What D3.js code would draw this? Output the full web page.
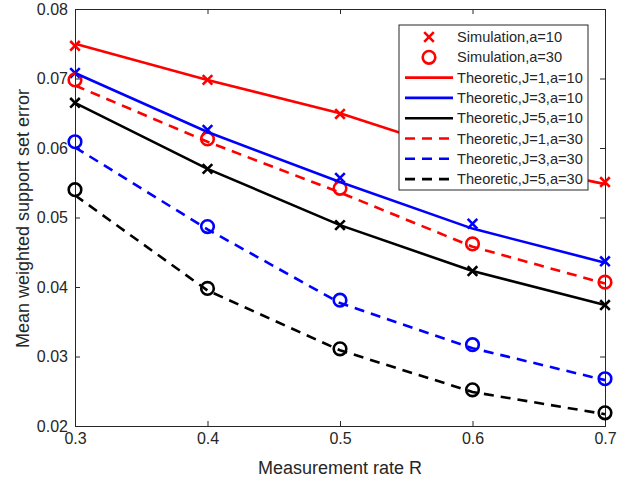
<!DOCTYPE html>
<html><head><meta charset="utf-8">
<script src="https://cdn.jsdelivr.net/npm/d3@7"></script>
<style>body{margin:0;background:#fff}text{font-family:"Liberation Sans",Arial,sans-serif;fill:#262626}</style>
</head><body><svg id="c" width="638" height="481"></svg>
<script>
const rates = [0.3, 0.4, 0.5, 0.6, 0.7];
const xTicks = [0.3, 0.4, 0.5, 0.6, 0.7];
const yTicks = [0.02, 0.03, 0.04, 0.05, 0.06, 0.07, 0.08];
// Simulation, a=10 (x markers)
const simA10J1 = [0.0747, 0.0698, 0.0649, 0.0592, 0.0551];
const simA10J3 = [0.0708, 0.0626, 0.0557, 0.0491, 0.0437];
const simA10J5 = [0.0665, 0.0570, 0.0489, 0.0423, 0.0374];
// Simulation, a=30 (circle markers)
const simA30J1 = [0.0698, 0.0613, 0.0542, 0.0462, 0.0407];
const simA30J3 = [0.0609, 0.0487, 0.0381, 0.0317, 0.0268];
const simA30J5 = [0.0540, 0.0398, 0.0311, 0.0252, 0.0219];
// Theoretic curves
const thA10J1 = [0.0750, 0.0698, 0.0650, 0.0588, 0.0548];
const thA10J3 = [0.0708, 0.0623, 0.0551, 0.0484, 0.0435];
const thA10J5 = [0.0665, 0.0570, 0.0489, 0.0423, 0.0374];
const thA30J1 = [0.0690, 0.0609, 0.0536, 0.0458, 0.0405];
const thA30J3 = [0.0601, 0.0483, 0.0377, 0.0312, 0.0266];
const thA30J5 = [0.0532, 0.0395, 0.0309, 0.0249, 0.0217];
const legendLabels = ["Simulation,a=10","Simulation,a=30","Theoretic,J=1,a=10","Theoretic,J=3,a=10","Theoretic,J=5,a=10","Theoretic,J=1,a=30","Theoretic,J=3,a=30","Theoretic,J=5,a=30"];

const svg = d3.select("#c");
const L = 75, R = 605, T = 9, B = 426;
const x = d3.scaleLinear().domain([0.3, 0.7]).range([L, R]);
const y = d3.scaleLinear().domain([0.02, 0.08]).range([B, T]);
const axCol = "#262626";

svg.append("rect").attr("x", L).attr("y", T).attr("width", R - L).attr("height", B - T).attr("fill", "#fff");

const fmt = d3.format(".2f");
const axB = d3.axisBottom(x).tickValues(xTicks).tickSize(-5).tickPadding(7).tickFormat(d3.format(".1f"));
const axT = d3.axisTop(x).tickValues(xTicks).tickSize(-5).tickFormat("");
const axL = d3.axisLeft(y).tickValues(yTicks).tickSize(-5).tickPadding(7).tickFormat(fmt);
const axR = d3.axisRight(y).tickValues(yTicks).tickSize(-5).tickFormat("");
function styleAx(g){g.select(".domain").attr("stroke", axCol).attr("stroke-width",1);g.selectAll(".tick line").attr("stroke", axCol);g.selectAll("text").attr("font-size",16).attr("fill",axCol).attr("font-family","Liberation Sans, Arial, sans-serif");}
svg.append("g").attr("transform",`translate(0,${B})`).call(axB).call(styleAx);
svg.append("g").attr("transform",`translate(0,${T})`).call(axT).call(styleAx);
svg.append("g").attr("transform",`translate(${L},0)`).call(axL).call(styleAx);
svg.append("g").attr("transform",`translate(${R},0)`).call(axR).call(styleAx);

svg.append("text").attr("x",(L+R)/2).attr("y",474).attr("text-anchor","middle").attr("font-size",18).text("Measurement rate R");
svg.append("text").attr("transform",`translate(29,${(T+B)/2+1}) rotate(-90)`).attr("text-anchor","middle").attr("font-size",18).text("Mean weighted support set error");

const plot = svg.append("g");
const line = d3.line().x((d,i)=>x(rates[i])).y(d=>y(d));
const dashPat = "10,7";
const theo = [
  {v: thA10J1, c:"#ff0000", dash:null},
  {v: thA10J3, c:"#0000ff", dash:null},
  {v: thA10J5, c:"#000000", dash:null},
  {v: thA30J1, c:"#ff0000", dash:dashPat},
  {v: thA30J3, c:"#0000ff", dash:dashPat},
  {v: thA30J5, c:"#000000", dash:dashPat}
];
const xs = [{v:simA10J1,c:"#ff0000"},{v:simA10J3,c:"#0000ff"},{v:simA10J5,c:"#000000"}];
const os = [{v:simA30J1,c:"#ff0000"},{v:simA30J3,c:"#0000ff"},{v:simA30J5,c:"#000000"}];
function drawX(g, cx, cy, c){const s=4.8;g.append("path").attr("d",`M${cx-s},${cy-s}L${cx+s},${cy+s}M${cx-s},${cy+s}L${cx+s},${cy-s}`).attr("stroke",c).attr("stroke-width",2.6).attr("fill","none");}
function drawO(g, cx, cy, c){g.append("circle").attr("cx",cx).attr("cy",cy).attr("r",6.3).attr("stroke",c).attr("stroke-width",2.6).attr("fill","none");}
xs.forEach(s=>s.v.forEach((d,i)=>drawX(plot,x(rates[i]),y(d),s.c)));
os.forEach(s=>s.v.forEach((d,i)=>drawO(plot,x(rates[i]),y(d),s.c)));
theo.forEach(s=>plot.append("path").datum(s.v).attr("d",line).attr("fill","none").attr("stroke",s.c).attr("stroke-width",2.6).attr("stroke-dasharray",s.dash));

// legend
const lg = svg.append("g");
const lx = 399, ly = 25, lw = 189, lh = 165, rowH = 20.3;
lg.append("rect").attr("x",lx).attr("y",ly).attr("width",lw).attr("height",lh).attr("fill","#fff").attr("stroke",axCol).attr("stroke-width",1);
legendLabels.forEach((t,i)=>{
  const cy = ly + 12 + i*rowH;
  if(i===0) drawX(lg, 429, cy, "#ff0000");
  else if(i===1) drawO(lg, 429, cy, "#ff0000");
  else { const s = theo[i-2]; lg.append("line").attr("x1",405).attr("x2",453).attr("y1",cy).attr("y2",cy).attr("stroke",s.c).attr("stroke-width",2.6).attr("stroke-dasharray",s.dash); }
  lg.append("text").attr("x",457).attr("y",cy).attr("dy","0.35em").attr("font-size",14.6).text(t);
});
</script></body></html>
